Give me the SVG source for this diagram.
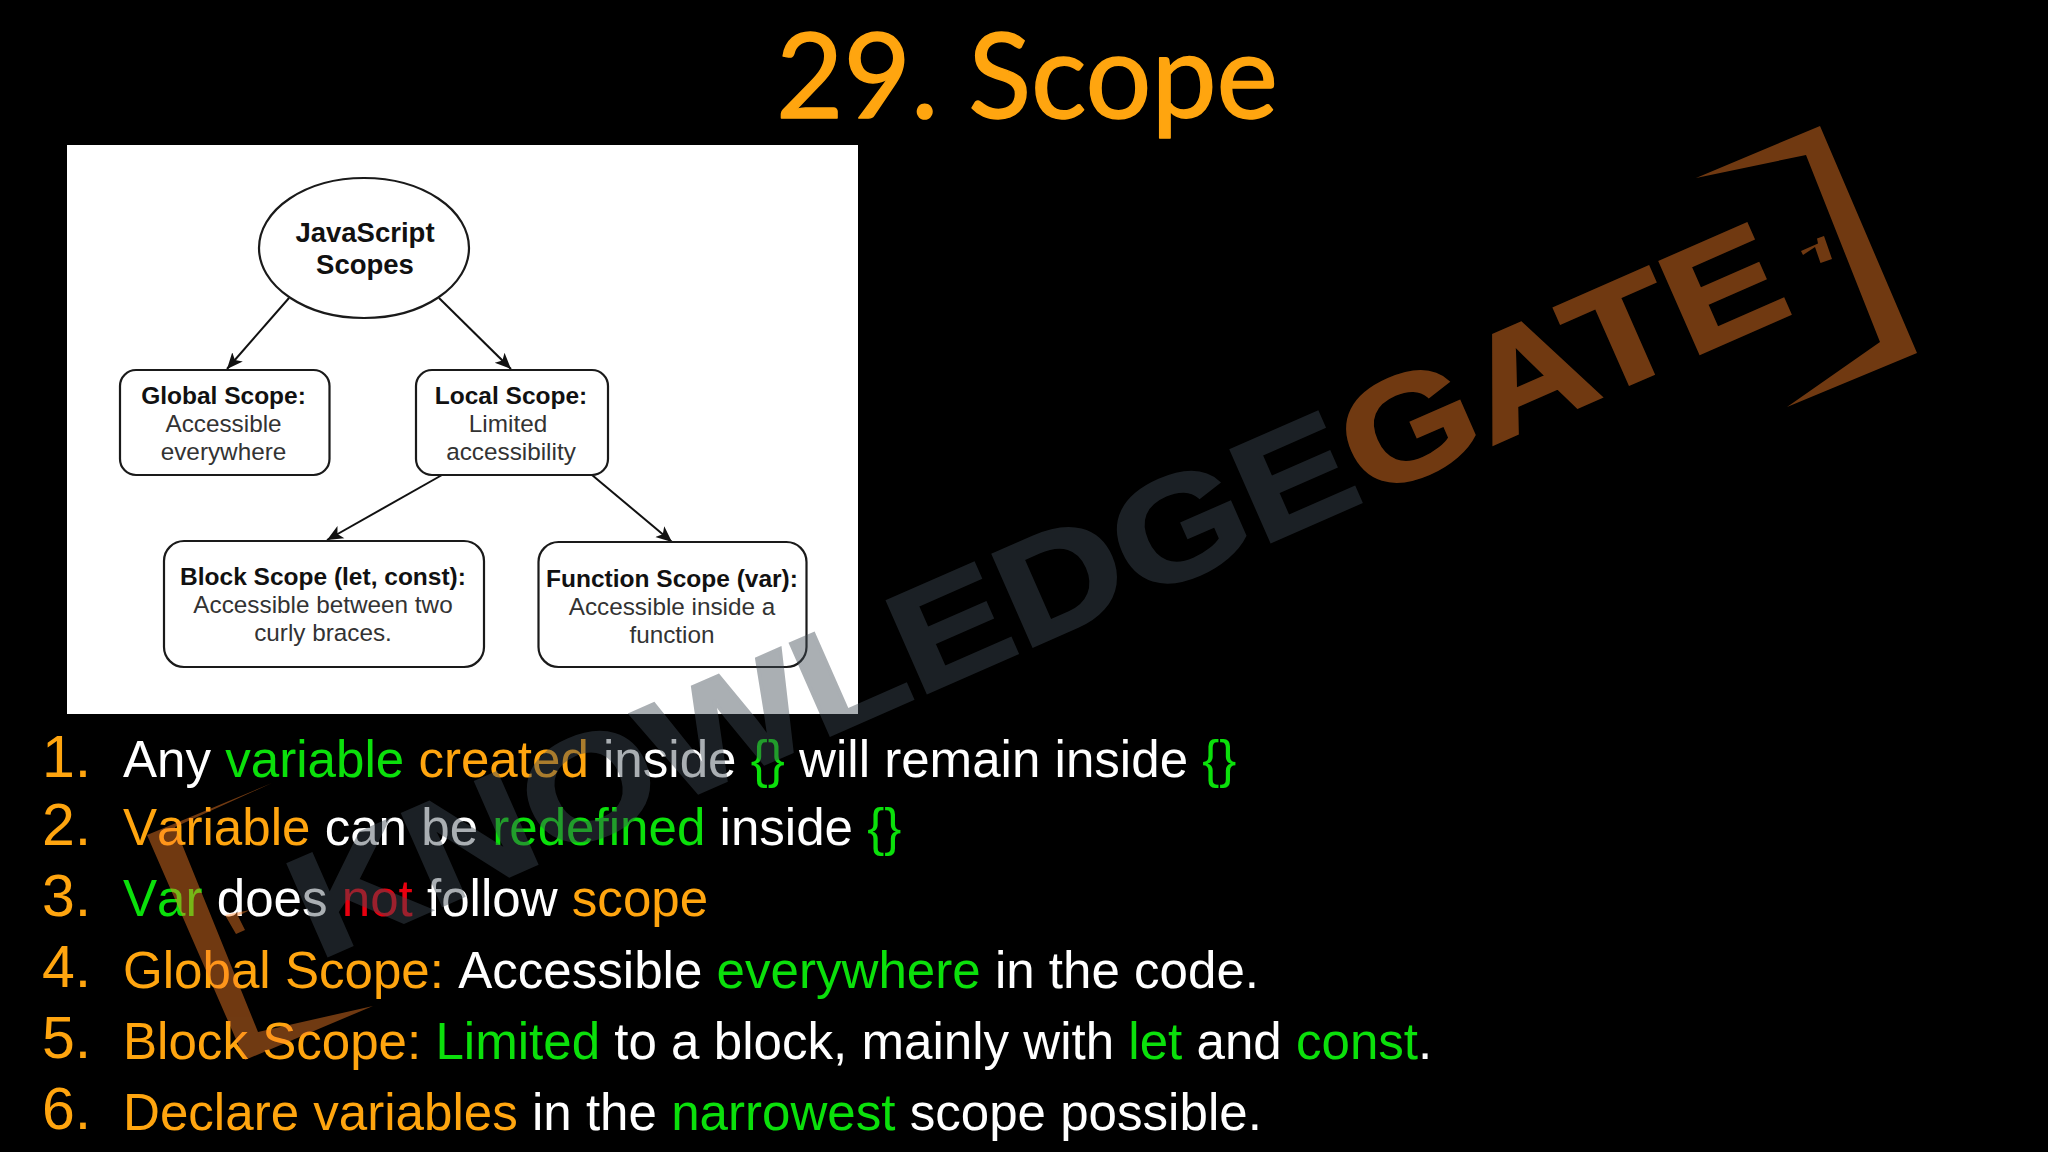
<svg xmlns="http://www.w3.org/2000/svg" width="2048" height="1152" viewBox="0 0 2048 1152">
<style>
text{font-family:"Liberation Sans",Arial,sans-serif}
.b{font-weight:bold;font-size:24.5px;fill:#111;text-anchor:middle}
.r{font-size:24.3px;fill:#333;text-anchor:middle}
.box{fill:#fff;stroke:#1a1a1a;stroke-width:2.200}
.edge{stroke:#111;stroke-width:2;fill:none;marker-end:url(#arr)}
.n{font-size:59px;fill:#ffa50f}
.t{font-size:51.100px;fill:#fff;font-kerning:none}
.o{fill:#ffa50f}.g{fill:#0be00b}.w{fill:#fff}.x{fill:#e8000f}
.brown{fill:#ff8328}
.sb{stroke:#ff8328;stroke-width:3}
.sd{stroke:#3f4a54;stroke-width:3}
</style>
<defs><marker id="arr" markerUnits="userSpaceOnUse" markerWidth="18" markerHeight="16" refX="16" refY="8" orient="auto"><path d="M0,1 L16,8 L0,15 L4,8 Z" fill="#111"/></marker></defs>
<rect width="2048" height="1152" fill="#000"/>
<text id="title" x="776" y="118" font-size="118" textLength="502" lengthAdjust="spacingAndGlyphs" style="font-family:'Lato','Noto Sans',sans-serif;fill:#ffa50f;stroke:#ffa50f;stroke-width:1.500;stroke-linejoin:round">29. Scope</text>
<rect id="panel" x="67" y="145" width="791" height="569" fill="#fff"/>
<g id="connectors">
<path class="edge" d="M289,298L227,369"/>
<path class="edge" d="M439,298L511,369"/>
<path class="edge" d="M442,475L327,540"/>
<path class="edge" d="M592,475L672,542"/>
</g>
<g id="root"><ellipse class="box" cx="364" cy="248" rx="105" ry="70"/>
<text class="b" style="font-size:27.500px" x="365" y="242">JavaScript</text><text class="b" style="font-size:27.500px" x="365" y="274">Scopes</text></g>
<g id="global"><rect class="box" x="120" y="370" width="209.500" height="105" rx="16"/>
<text class="b" x="223.500" y="404">Global Scope:</text><text class="r" x="223.500" y="432">Accessible</text><text class="r" x="223.500" y="460">everywhere</text></g>
<g id="local"><rect class="box" x="416" y="370" width="192" height="105" rx="16"/>
<text class="b" x="511" y="404">Local Scope:</text><text class="r" x="508" y="432">Limited</text><text class="r" x="511" y="460">accessibility</text></g>
<g id="block"><rect class="box" x="164" y="541" width="320" height="126" rx="20"/>
<text class="b" x="323" y="585">Block Scope (let, const):</text><text class="r" x="323" y="613">Accessible between two</text><text class="r" x="323" y="641">curly braces.</text></g>
<g id="function"><rect class="box" x="538.500" y="542" width="268" height="125" rx="20"/>
<text class="b" x="672" y="587">Function Scope (var):</text><text class="r" x="672" y="615">Accessible inside a</text><text class="r" x="672" y="643">function</text></g>
<g id="list">
<text class="n" x="42" y="777">1.</text><text class="n" x="42" y="845">2.</text><text class="n" x="42" y="916">3.</text><text class="n" x="42" y="987">4.</text><text class="n" x="42" y="1058">5.</text><text class="n" x="42" y="1129">6.</text>
<text class="t" x="123" y="777"><tspan class="w">Any </tspan><tspan class="g">variable </tspan><tspan class="o">created </tspan><tspan class="w">inside </tspan><tspan class="g">{} </tspan><tspan class="w">will remain inside </tspan><tspan class="g">{}</tspan></text>
<text class="t" x="123" y="845"><tspan class="o">Variable </tspan><tspan class="w">can be </tspan><tspan class="g">redefined </tspan><tspan class="w">inside </tspan><tspan class="g">{}</tspan></text>
<text class="t" x="123" y="916"><tspan class="g">Var </tspan><tspan class="w">does </tspan><tspan class="x">not </tspan><tspan class="w">follow </tspan><tspan class="o">scope</tspan></text>
<text class="t" x="123" y="988"><tspan class="o">Global Scope: </tspan><tspan class="w">Accessible </tspan><tspan class="g">everywhere </tspan><tspan class="w">in the code.</tspan></text>
<text class="t" x="123" y="1059"><tspan class="o">Block Scope: </tspan><tspan class="g">Limited </tspan><tspan class="w">to a block, mainly with </tspan><tspan class="g">let </tspan><tspan class="w">and </tspan><tspan class="g">const</tspan><tspan class="w">.</tspan></text>
<text class="t" x="123" y="1130"><tspan class="o">Declare variables </tspan><tspan class="w">in the </tspan><tspan class="g">narrowest </tspan><tspan class="w">scope possible.</tspan></text>
</g>
<g id="watermark" opacity="0.44">
<polygon class="brown" points="1696,178 1820,126 1917,353 1787,407 1880,342 1806,155"/>
<polygon class="brown" points="1801,251 1818,243.500 1817,238.500 1824,236 1832,259 1820.500,263 1815,247 1803,255"/>
<polygon class="brown" points="272,783 147,835 245,1060 373,1006 258,1032 175,827"/>
<polygon class="brown" points="225,915 236,934 245,930 238,916 250,910"/>
<text transform="translate(318 960) rotate(-23.700) scale(1.195 1)" font-size="145" font-weight="bold"><tspan class="sd" fill="#3f4a54">KNOWLEDGE</tspan><tspan class="brown sb">GATE</tspan></text>
</g>
</svg>
